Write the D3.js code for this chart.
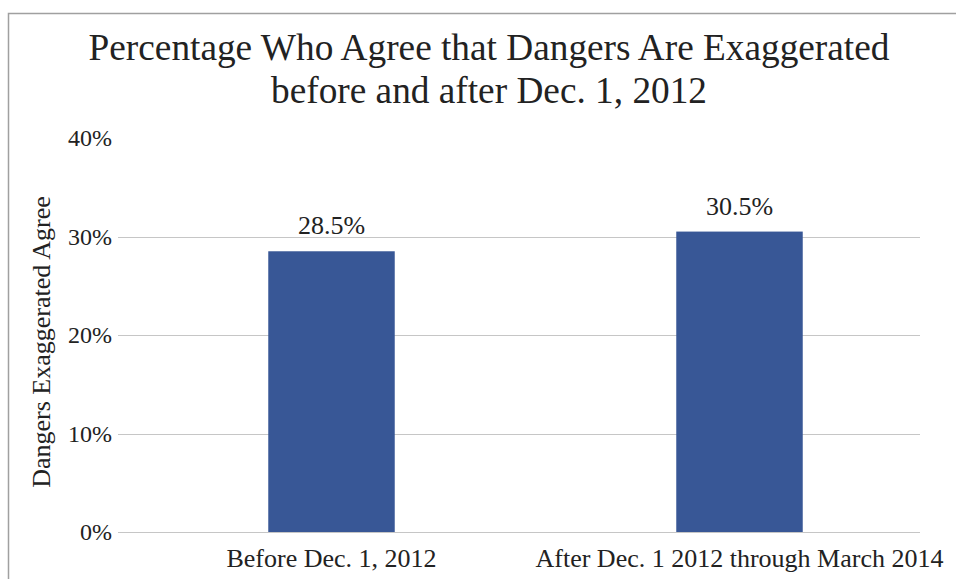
<!DOCTYPE html>
<html>
<head>
<meta charset="utf-8">
<script src="https://cdn.jsdelivr.net/npm/d3@7"></script>
<style>
  html, body { margin: 0; padding: 0; background: #fff; }
  svg { display: block; }
</style>
</head>
<body>
<svg id="chart" width="956" height="579"></svg>
<script>
const categories = ["Before Dec. 1, 2012", "After Dec. 1 2012 through March 2014"];
const values = [0.285, 0.305];
const valueLabels = ["28.5%", "30.5%"];
const yTicks = [0, 0.1, 0.2, 0.3, 0.4];
const titleLines = ["Percentage Who Agree that Dangers Are Exaggerated", "before and after Dec. 1, 2012"];
const yAxisTitle = "Dangers Exaggerated Agree";

const FONT = "Liberation Serif";
const svg = d3.select("#chart");

// outer frame (extends beyond right and bottom edges)
svg.append("path")
  .attr("d", "M8.5,600 L8.5,13.5 L980,13.5")
  .attr("fill", "none")
  .attr("stroke", "#a0a0a0")
  .attr("stroke-width", 1.5);

const x = d3.scaleBand()
  .domain(categories)
  .range([127.5, 943.5])
  .paddingInner(0.69)
  .paddingOuter(0.345);

const y = d3.scaleLinear()
  .domain([0, 0.4])
  .range([532, 138]);

const gridX0 = 118, gridX1 = 920;

// gridlines (excluding top)
svg.append("g").selectAll("line")
  .data(yTicks.filter(t => t < 0.4))
  .join("line")
  .attr("x1", gridX0).attr("x2", gridX1)
  .attr("y1", d => Math.round(y(d)) + 0.5)
  .attr("y2", d => Math.round(y(d)) + 0.5)
  .attr("stroke", "#c6c6c6")
  .attr("stroke-width", 1.2);

function txt(sel) {
  return sel.attr("font-family", FONT).attr("fill", "#222");
}

// y tick labels
svg.append("g").selectAll("text")
  .data(yTicks)
  .join("text")
  .call(txt)
  .attr("x", 112)
  .attr("y", d => y(d))
  .attr("dy", "0.35em")
  .attr("text-anchor", "end")
  .attr("font-size", 24)
  .text(d => d3.format(".0%")(d));

// bars
svg.append("g").selectAll("rect")
  .data(values)
  .join("rect")
  .attr("x", (d, i) => x(categories[i]))
  .attr("width", x.bandwidth())
  .attr("y", d => y(d))
  .attr("height", d => y(0) - y(d))
  .attr("fill", "#385796");

// value labels
svg.append("g").selectAll("text")
  .data(values)
  .join("text")
  .call(txt)
  .attr("x", (d, i) => x(categories[i]) + x.bandwidth() / 2)
  .attr("y", d => y(d) - 17)
  .attr("text-anchor", "middle")
  .attr("font-size", 26)
  .text((d, i) => valueLabels[i]);

// category labels
svg.append("g").selectAll("text")
  .data(categories)
  .join("text")
  .call(txt)
  .attr("x", d => x(d) + x.bandwidth() / 2)
  .attr("y", 567)
  .attr("text-anchor", "middle")
  .attr("font-size", 26)
  .text(d => d);

// title
svg.append("g").selectAll("text")
  .data(titleLines)
  .join("text")
  .call(txt)
  .attr("x", 489)
  .attr("y", (d, i) => 60 + i * 43)
  .attr("text-anchor", "middle")
  .attr("font-size", 37.3)
  .text(d => d);

// y axis title
svg.append("text")
  .call(txt)
  .attr("transform", "translate(50,342) rotate(-90)")
  .attr("text-anchor", "middle")
  .attr("font-size", 26)
  .text(yAxisTitle);
</script>
</body>
</html>
